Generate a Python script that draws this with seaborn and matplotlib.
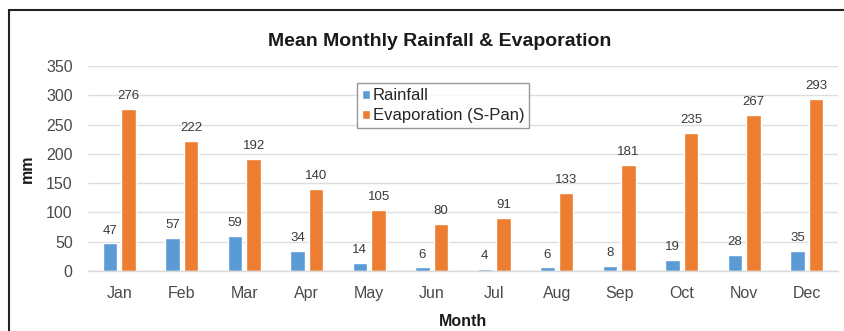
import matplotlib
matplotlib.use("Agg")
import matplotlib.pyplot as plt
from matplotlib.lines import Line2D
import pandas as pd
import seaborn as sns

months = ["Jan", "Feb", "Mar", "Apr", "May", "Jun",
          "Jul", "Aug", "Sep", "Oct", "Nov", "Dec"]
rainfall = [47, 57, 59, 34, 14, 6, 4, 6, 8, 19, 28, 35]
evaporation = [276, 222, 192, 140, 105, 80, 91, 133, 181, 235, 267, 293]
series_names = ["Rainfall", "Evaporation (S-Pan)"]
y_ticks = [0, 50, 100, 150, 200, 250, 300, 350]

df = pd.DataFrame({
    "Month": months * 2,
    "mm": rainfall + evaporation,
    "Series": [series_names[0]] * len(months) + [series_names[1]] * len(months),
})

sns.set_theme(style="white")
plt.rcParams["font.family"] = ["Liberation Sans", "DejaVu Sans"]

W, H = 845, 331
fig = plt.figure(figsize=(W / 100, H / 100), dpi=100)
ax = fig.add_axes([88 / W, 1 - 271 / H, (838 - 88) / W, (271 - 66) / H])

palette = {series_names[0]: "#5B9BD5", series_names[1]: "#ED7D31"}
sns.barplot(data=df, x="Month", y="mm", hue="Series", order=months,
            hue_order=series_names, palette=palette, width=0.6, gap=0.22,
            saturation=1, ax=ax, errorbar=None)

ax.set_ylim(0, 350)
ax.set_xlim(-0.5, len(months) - 0.5)
ax.set_yticks(y_ticks)
ax.set_yticklabels([str(v) for v in y_ticks])
ax.yaxis.grid(True, color="#DEDEDE", linewidth=1.0)
ax.set_axisbelow(True)
for s in ["top", "right", "left"]:
    ax.spines[s].set_visible(False)
ax.spines["bottom"].set_color("#D9D9D9")
ax.spines["bottom"].set_linewidth(1.0)
ax.tick_params(axis="both", length=0, labelsize=11.5, labelcolor="#4A4A4A")
ax.tick_params(axis="x", pad=11)
ax.tick_params(axis="y", pad=11)

for cont in ax.containers:
    ax.bar_label(cont, fmt="%d", padding=5, fontsize=9.5, color="#3A3A3A")

ax.set_xlabel("Month", fontsize=11.5, fontweight="bold", color="#1a1a1a", labelpad=9)
ax.set_ylabel("mm", fontsize=11.5, fontweight="bold", color="#1a1a1a", labelpad=8)
fig.text(440 / W, 1 - 41 / H, "Mean Monthly Rainfall & Evaporation",
         ha="center", va="center", fontsize=14, fontweight="bold", color="#1a1a1a")

handles, labels = ax.get_legend_handles_labels()
ax.legend(handles, labels, loc="upper left", bbox_to_anchor=((357 - 88) / (838 - 88), 1 - (83 - 66) / (271 - 66)),
          frameon=True, fancybox=False, edgecolor="#7F7F7F", fontsize=12,
          handlelength=0.45, handleheight=0.45, handletextpad=0.2,
          borderpad=0.3, labelspacing=0.3, borderaxespad=0)
leg = ax.get_legend()
leg.get_frame().set_linewidth(1.0)
for t in leg.get_texts():
    t.set_color("#262626")

# outer frame on the left and top edges
fig.add_artist(Line2D([9 / W, 9 / W], [0, 1 - 10 / H], color="#222222", linewidth=1.5))
fig.add_artist(Line2D([9 / W, 1], [1 - 10 / H, 1 - 10 / H], color="#222222", linewidth=1.5))

fig.savefig("out.png", dpi=100)
